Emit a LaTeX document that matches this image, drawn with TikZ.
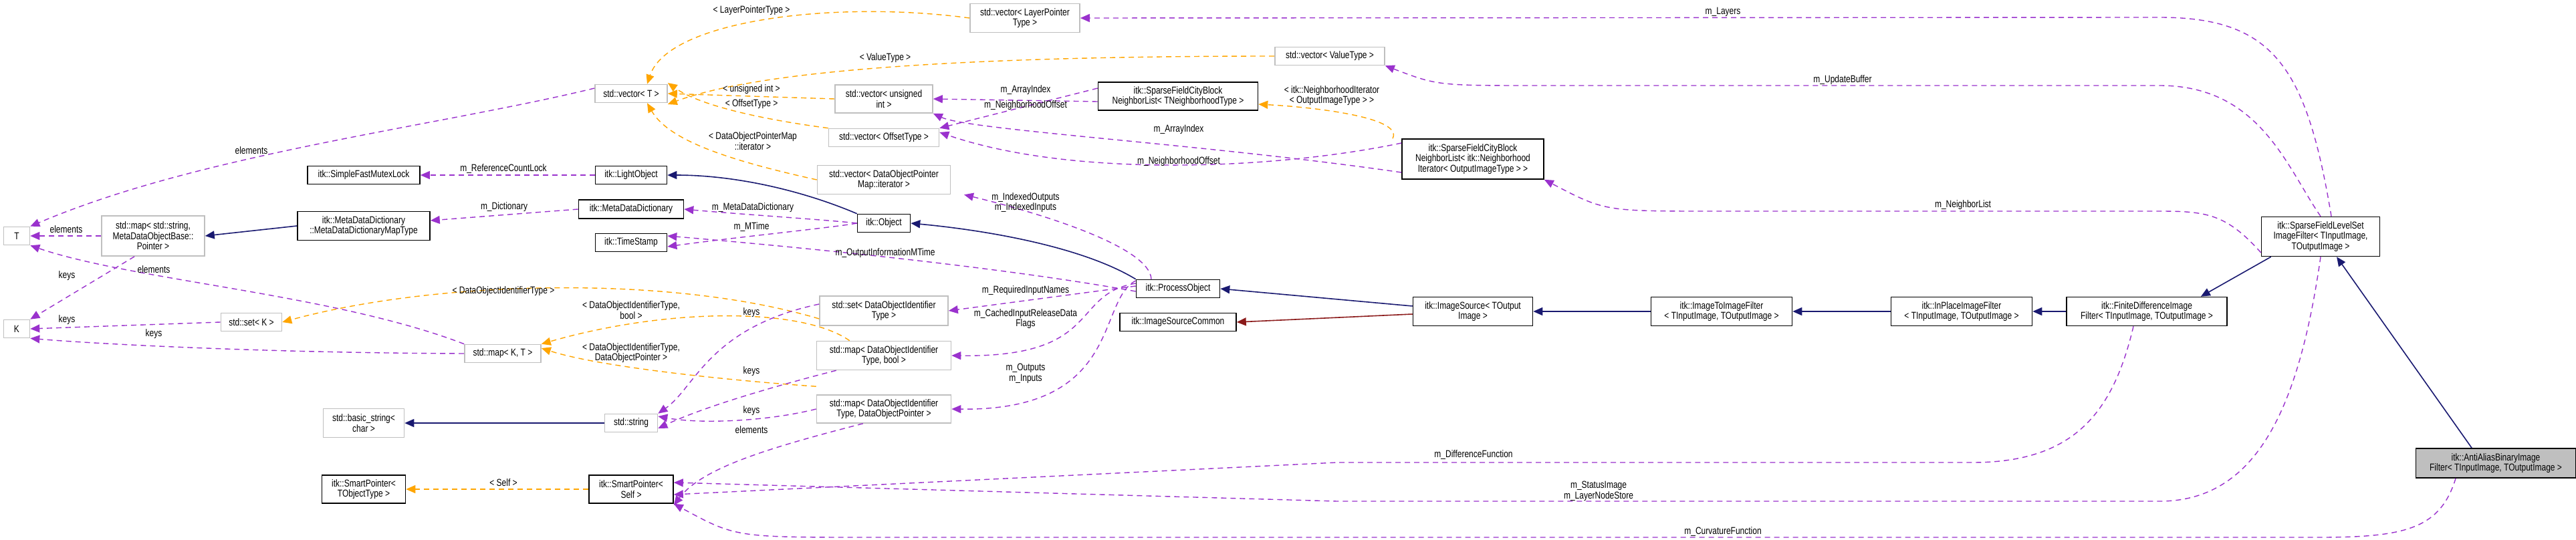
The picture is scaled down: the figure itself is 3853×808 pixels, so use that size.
\documentclass[tikz,border=0pt]{standalone}
\usepackage{fontspec}
\setmainfont{Liberation Sans}[FakeStretch=0.8]
\usetikzlibrary{arrows.meta}
\definecolor{usep}{HTML}{9A32CD}
\definecolor{tmpl}{HTML}{FFA500}
\definecolor{inh}{HTML}{191970}
\definecolor{priv}{HTML}{8B1A1A}
\definecolor{gbord}{HTML}{BFBFBF}
\begin{document}
\begin{tikzpicture}[x=0.5pt,y=-0.5pt,
  font=\fontsize{7.5}{7.7}\selectfont,
  box/.style={draw=black,line width=0.8pt,fill=white,align=center,inner sep=1pt},
  ext/.style={draw=gbord,line width=0.8pt,fill=white,align=center,inner sep=1pt},
  use/.style={draw=usep,line width=0.7pt,dash pattern=on 4pt off 3pt,-{Triangle[length=7pt,width=6pt]}},
  tpl/.style={draw=tmpl,line width=0.7pt,dash pattern=on 4pt off 3pt,-{Triangle[length=7pt,width=6pt]}},
  inhe/.style={draw=inh,line width=0.8pt,-{Triangle[length=7pt,width=6pt]}},
  prv/.style={draw=priv,line width=0.8pt,-{Triangle[length=7pt,width=6pt]}},
  lab/.style={align=center,inner sep=0pt}]
\useasboundingbox (0,0) rectangle (3853,808);
% nodes
\node[ext,minimum width=54pt,minimum height=13.5pt] (vecT) at (944,140) {std::vector< T >};
\node[box,minimum width=84pt,minimum height=13.5pt] (mutex) at (544,262) {itk::SimpleFastMutexLock};
\node[box,minimum width=53.5pt,minimum height=13.5pt] (light) at (944,262) {itk::LightObject};
\node[box,minimum width=78.5pt,minimum height=14pt] (mdd) at (944,313) {itk::MetaDataDictionary};
\node[box,minimum width=99pt,minimum height=21.5pt] (mdmap) at (544,338) {itk::MetaDataDictionary\\::MetaDataDictionaryMapType};
\node[box,minimum width=53.5pt,minimum height=13.5pt] (ts) at (944,363) {itk::TimeStamp};
\node[ext,minimum width=19.5pt,minimum height=13.5pt] (T) at (25,353) {T};
\node[ext,minimum width=77pt,minimum height=30pt] (strmap) at (229,353) {std::map< std::string,\\ MetaDataObjectBase::\\Pointer >};
\node[ext,minimum width=19.5pt,minimum height=13.5pt] (K) at (25,492) {K};
\node[ext,minimum width=45.5pt,minimum height=13.5pt] (setK) at (376,482) {std::set< K >};
\node[ext,minimum width=57pt,minimum height=13.5pt] (mapKT) at (752,529) {std::map< K, T >};
\node[ext,minimum width=60.5pt,minimum height=21.5pt] (bstr) at (544,633) {std::basic\_string<\\ char >};
\node[ext,minimum width=39.5pt,minimum height=13.5pt] (str) at (944,633) {std::string};
\node[box,minimum width=62.5pt,minimum height=21pt] (spT) at (544,732) {itk::SmartPointer<\\ TObjectType >};
\node[box,minimum width=63pt,minimum height=21pt] (spS) at (944,732) {itk::SmartPointer<\\ Self >};
\node[ext,minimum width=82pt,minimum height=21.5pt] (vecLP) at (1533,27) {std::vector< LayerPointer\\Type >};
\node[ext,minimum width=82pt,minimum height=13.5pt] (vecVT) at (1989,84) {std::vector< ValueType >};
\node[ext,minimum width=73pt,minimum height=21pt] (vecUI) at (1322,148) {std::vector< unsigned\\ int >};
\node[box,minimum width=119.5pt,minimum height=21pt] (sfcbT) at (1762,144) {itk::SparseFieldCityBlock\\NeighborList< TNeighborhoodType >};
\node[ext,minimum width=82.5pt,minimum height=13.5pt] (vecOT) at (1322,206) {std::vector< OffsetType >};
\node[ext,minimum width=99.5pt,minimum height=21.5pt] (vecDOP) at (1322,269) {std::vector< DataObjectPointer\\Map::iterator >};
\node[box,minimum width=39.5pt,minimum height=13.5pt] (obj) at (1322,334) {itk::Object};
\node[box,minimum width=62.5pt,minimum height=13.5pt] (po) at (1762,432) {itk::ProcessObject};
\node[ext,minimum width=96pt,minimum height=22pt] (setDO) at (1322,465) {std::set< DataObjectIdentifier\\Type >};
\node[ext,minimum width=100.5pt,minimum height=21.5pt] (mapDOb) at (1322,532) {std::map< DataObjectIdentifier\\Type, bool >};
\node[ext,minimum width=100.5pt,minimum height=21pt] (mapDOP) at (1322,612) {std::map< DataObjectIdentifier\\Type, DataObjectPointer >};
\node[box,minimum width=87pt,minimum height=13.5pt] (isc) at (1762,482) {itk::ImageSourceCommon};
\node[box,minimum width=106pt,minimum height=30pt] (sfcbN) at (2203,238) {itk::SparseFieldCityBlock\\NeighborList< itk::Neighborhood\\Iterator< OutputImageType > >};
\node[box,minimum width=89.5pt,minimum height=21.5pt] (isrc) at (2203,466) {itk::ImageSource< TOutput\\ Image >};
\node[box,minimum width=105.5pt,minimum height=21.5pt] (i2i) at (2575,466) {itk::ImageToImageFilter\\< TInputImage, TOutputImage >};
\node[box,minimum width=105.5pt,minimum height=21.5pt] (inpl) at (2934,466) {itk::InPlaceImageFilter\\< TInputImage, TOutputImage >};
\node[box,minimum width=120pt,minimum height=21.5pt] (fdi) at (3211,466) {itk::FiniteDifferenceImage\\Filter< TInputImage, TOutputImage >};
\node[box,minimum width=88.5pt,minimum height=29.5pt] (sfls) at (3471,354) {itk::SparseFieldLevelSet\\ImageFilter< TInputImage,\\ TOutputImage >};
\node[box,fill=gbord,minimum width=119.5pt,minimum height=22pt] (aa) at (3733,693) {itk::AntiAliasBinaryImage\\Filter< TInputImage, TOutputImage >};
% inheritance
\draw[inhe] (obj.north west) .. controls (1200,285) and (1100,262) .. (light.east);
\draw[inhe] (mdmap.west) -- (strmap.east);
\draw[inhe] (str.west) -- (bstr.east);
\draw[inhe] (po.north west) .. controls (1620,370) and (1480,345) .. (obj.east);
\draw[inhe] (isrc.west) ++(0,-8) coordinate (isrcA) (isrcA) -- (po.east);
\draw[prv] (isrc.west) ++(0,4) coordinate (isrcB) (isrcB) -- (isc.east);
\draw[inhe] (i2i.west) -- (isrc.east);
\draw[inhe] (inpl.west) -- (i2i.east);
\draw[inhe] (fdi.west) -- (inpl.east);
\draw[inhe] (sfls.south west) ++(15,0) coordinate (sflsA) (sflsA) -- ([xshift=-20]fdi.north east);
\draw[inhe] ([xshift=-18]aa.north) -- ([xshift=12]sfls.south);
% template instances
\draw[tpl] (vecLP.west) .. controls (1250,0) and (1000,30) .. ([xshift=12]vecT.north);
\draw[tpl] (vecVT.west) .. controls (1500,84) and (1150,100) .. ([yshift=-8]vecT.east);
\draw[tpl] (vecUI.west) -- (vecT.east);
\draw[tpl] (vecOT.north west) .. controls (1150,180) and (1050,160) .. ([yshift=8]vecT.east);
\draw[tpl] (vecDOP.west) .. controls (1090,240) and (1000,210) .. ([xshift=12]vecT.south);
\draw[tpl] ([xshift=-60]sfcbN.north) .. controls (2100,175) and (1960,160) .. ([yshift=-6]sfcbT.east);
\draw[tpl] ([yshift=-6]setDO.west) .. controls (1000,410) and (650,420) .. (setK.east);
\draw[tpl] ([xshift=25]mapDOb.north west) .. controls (1200,460) and (1000,460) .. (mapKT.north east);
\draw[tpl] ([yshift=6]mapDOP.north west) .. controls (1100,570) and (900,550) .. ([yshift=4]mapKT.east);
\draw[tpl] (spS.west) -- (spT.east);
% usage
\draw[use] ([yshift=4]vecT.west) .. controls (650,190) and (300,230) .. (T.north east);
\draw[use] (light.west) -- (mutex.east);
\draw[use] (mdd.west) -- ([yshift=4]mdmap.east);
\draw[use] (strmap.west) -- (T.east);
\draw[use] ([xshift=25]strmap.south west) -- (K.north east);
\draw[use] (setK.west) -- (K.east);
\draw[use] (mapKT.west) .. controls (400,528) and (150,515) .. (K.south east);
\draw[use] (mapKT.north west) .. controls (500,440) and (200,420) .. (T.south east);
\draw[use] ([yshift=-4]sfcbT.west) -- (vecUI.east);
\draw[use] ([yshift=6]sfcbT.west) -- (vecOT.north east);
\draw[use] ([yshift=-10]sfcbN.west) .. controls (1800,215) and (1450,195) .. (vecUI.south east);
\draw[use] ([yshift=12]sfcbN.west) .. controls (1900,255) and (1600,265) .. ([yshift=4]vecOT.east);
\draw[use] (obj.west) .. controls (1250,330) and (1100,320) .. (mdd.east);
\draw[use] (obj.west) .. controls (1250,340) and (1100,355) .. ([yshift=-3]ts.east);
\draw[use] ([yshift=-2]po.west) .. controls (1500,400) and (1200,370) .. ([yshift=5]ts.east);
\draw[use] ([xshift=-20]po.north) .. controls (1720,370) and (1560,320) .. ([xshift=60]vecDOP.south);
\draw[use] ([yshift=2]po.west) -- (setDO.east);
\draw[use] ([yshift=4]po.west) .. controls (1600,440) and (1650,535) .. (mapDOb.east);
\draw[use] ([yshift=6]po.west) .. controls (1640,450) and (1680,615) .. (mapDOP.east);
\draw[use] ([yshift=5]setDO.west) .. controls (1060,490) and (1040,580) .. (str.north east);
\draw[use] ([xshift=15]mapDOb.south west) .. controls (1150,580) and (1050,610) .. ([yshift=-4]str.east);
\draw[use] (mapDOP.west) .. controls (1150,630) and (1050,635) .. ([yshift=5]str.east);
\draw[use] ([xshift=35]mapDOP.south west) .. controls (1150,670) and (1050,700) .. ([yshift=-12]spS.east);
\draw[use] ([xshift=8]sfls.north) .. controls (3450,100) and (3400,26) .. (3230,26) -- (vecLP.east);
\draw[use] (sfls.north) .. controls (3420,250) and (3380,128) .. (3230,128) -- (2300,128) .. controls (2150,128) .. (vecVT.south east);
\draw[use] ([yshift=-12]sfls.west) .. controls (3330,320) and (3300,316) .. (3230,316) -- (2560,316) .. controls (2400,316) .. (sfcbN.south east);
\draw[use] ([xshift=-10]fdi.south) .. controls (3160,620) and (3100,692) .. (2950,692) -- (2000,692) -- ([yshift=-4]spS.east);
\draw[use] (sfls.south) .. controls (3440,600) and (3380,750) .. (3230,750) -- (2000,750) -- ([yshift=5]spS.east);
\draw[use] ([xshift=-30]aa.south) .. controls (3650,790) and (3600,804) .. (3470,804) -- (1300,804) .. controls (1100,804) .. (spS.south east);
% labels
\node[lab] (l1) at (376,225) {elements};
\node[lab] (l2) at (753,253) {m\_ReferenceCountLock};
\node[lab] (l3) at (754,310) {m\_Dictionary};
\node[lab] (l4) at (99,343) {elements};
\node[lab] (l5) at (100,413) {keys};
\node[lab] (l6) at (230,403) {elements};
\node[lab] (l7) at (100,479) {keys};
\node[lab] (l8) at (230,500) {keys};
\node[lab] (l9) at (753,436) {< DataObjectIdentifierType >};
\node[lab] (l10) at (944,464) {< DataObjectIdentifierType,\\ bool >};
\node[lab] (l11) at (944,528) {< DataObjectIdentifierType,\\ DataObjectPointer >};
\node[lab] (l12) at (753,722) {< Self >};
\node[lab] (l13) at (1124,16) {< LayerPointerType >};
\node[lab] (l14) at (1324,87) {< ValueType >};
\node[lab] (l15) at (1124,134) {< unsigned int >};
\node[lab] (l16) at (1124,156) {< OffsetType >};
\node[lab] (l17) at (1126,211) {< DataObjectPointerMap\\::iterator >};
\node[lab] (l18) at (1534,135) {m\_ArrayIndex};
\node[lab] (l19) at (1534,158) {m\_NeighborhoodOffset};
\node[lab] (l20) at (1763,194) {m\_ArrayIndex};
\node[lab] (l21) at (1763,242) {m\_NeighborhoodOffset};
\node[lab] (l22) at (1992,143) {< itk::NeighborhoodIterator\\< OutputImageType > >};
\node[lab] (l23) at (1534,303) {m\_IndexedOutputs\\m\_IndexedInputs};
\node[lab] (l24) at (1126,311) {m\_MetaDataDictionary};
\node[lab] (l25) at (1124,340) {m\_MTime};
\node[lab] (l26) at (1324,379) {m\_OutputInformationMTime};
\node[lab] (l27) at (1534,435) {m\_RequiredInputNames};
\node[lab] (l28) at (1534,477) {m\_CachedInputReleaseData\\Flags};
\node[lab] (l29) at (1534,559) {m\_Outputs\\m\_Inputs};
\node[lab] (l30) at (1124,468) {keys};
\node[lab] (l31) at (1124,556) {keys};
\node[lab] (l32) at (1124,615) {keys};
\node[lab] (l33) at (1124,643) {elements};
\node[lab] (l34) at (2577,18) {m\_Layers};
\node[lab] (l35) at (2756,120) {m\_UpdateBuffer};
\node[lab] (l36) at (2936,307) {m\_NeighborList};
\node[lab] (l37) at (2204,681) {m\_DifferenceFunction};
\node[lab] (l38) at (2391,735) {m\_StatusImage\\m\_LayerNodeStore};
\node[lab] (l39) at (2577,796) {m\_CurvatureFunction};
\end{tikzpicture}
\end{document}
